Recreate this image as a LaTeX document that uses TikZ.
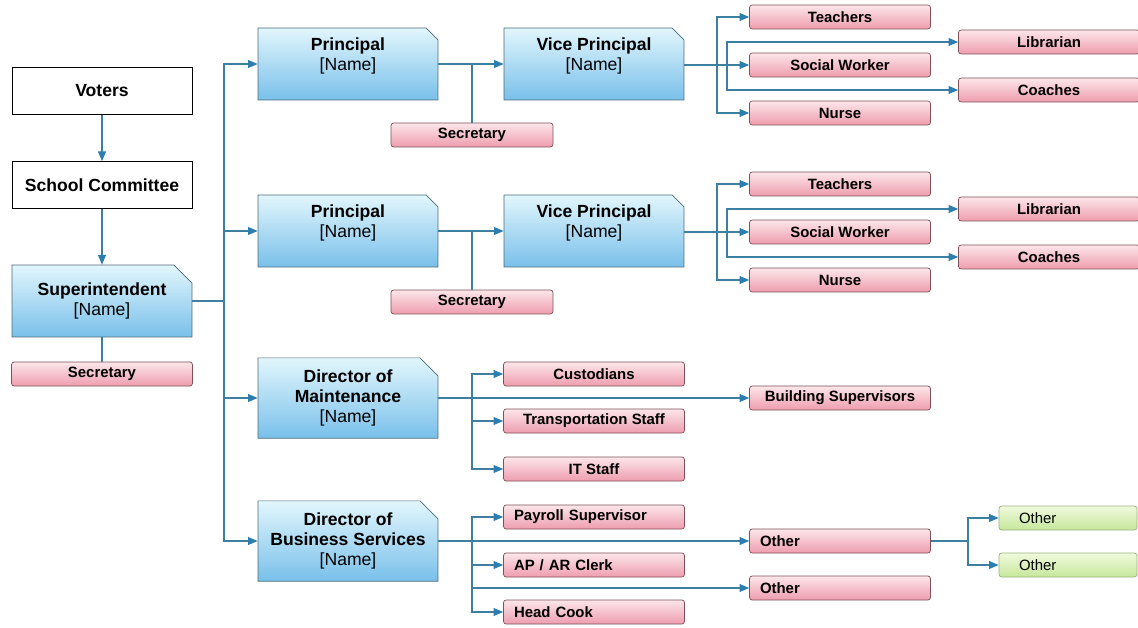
\documentclass[tikz,border=0pt]{standalone}
\usepackage{fontspec}
\setmainfont{Liberation Sans}
\usepackage{tikz}
\usetikzlibrary{shapes.misc, arrows.meta, positioning, calc}
\definecolor{orgline}{HTML}{3C7F9F}
\definecolor{orgtip}{HTML}{2C7DB0}
\definecolor{bluetop}{HTML}{E2F6FC}
\definecolor{bluebot}{HTML}{79C0EA}
\definecolor{blueedge}{HTML}{4B6B78}
\definecolor{pinktop}{HTML}{FCE6EA}
\definecolor{pinkbot}{HTML}{EE9DAE}
\definecolor{pinkedge}{HTML}{7E5058}
\definecolor{greentop}{HTML}{F0FADF}
\definecolor{greenbot}{HTML}{C6E79A}
\definecolor{greenedge}{HTML}{9AB47A}
\newcommand{\nm}{{[Name]}}
% two lines set a little above the middle of the box
\newcommand{\uptwo}[1]{\raisebox{1.6pt}[0pt][0pt]{\begin{tabular}{@{}c@{}}\textbf{#1}\\\nm\end{tabular}}}
\tikzset{
  plainbox/.style={
    draw=black, thin, fill=white, align=center,
    font=\fontsize{10}{12}\selectfont\bfseries,
    minimum width=3.6cm, minimum height=0.94cm
  },
  leadbox/.style={
    chamfered rectangle, chamfered rectangle corners=north east,
    chamfered rectangle xsep=0.16cm, chamfered rectangle ysep=0.2cm,
    draw=blueedge, thin, top color=bluetop, bottom color=bluebot,
    align=center, font=\fontsize{10}{11.5}\selectfont,
    minimum width=3.6cm, minimum height=1.44cm, inner sep=1pt
  },
  staffbox/.style={
    draw=pinkedge, thin, rounded corners=1.5pt,
    top color=pinktop, bottom color=pinkbot,
    align=center, font=\fontsize{8.5}{10}\selectfont\bfseries,
    minimum width=3.62cm, minimum height=0.48cm, inner sep=1pt
  },
  staffleft/.style={
    staffbox, text width=3.2cm, align=left
  },
  staffnarrow/.style={
    staffbox, minimum width=3.24cm
  },
  otherbox/.style={
    draw=greenedge, thin, rounded corners=1.5pt,
    top color=greentop, bottom color=greenbot,
    font=\fontsize{8.5}{10}\selectfont, text width=1.96cm, align=left,
    minimum width=2.76cm, minimum height=0.48cm, inner sep=1pt
  },
  orgarrow/.style={
    -{Triangle[length=5.5pt, width=4.5pt, color=orgtip]}, semithick, color=orgline
  },
  orgline/.style={semithick, color=orgline},
}

\begin{document}
\begin{tikzpicture}[x=0.02cm, y=-0.02cm]
  \useasboundingbox (0,0) rectangle (1138,628);

  % Left column
  \node[plainbox] (voters) at (102,91) {Voters};
  \node[plainbox] (comm) at (102,185) {School Committee};
  \node[leadbox] (sup) at (102,301) {\textbf{Superintendent}\\\nm};
  \node[staffbox] (supsec) at (102,374) {Secretary};
  \draw[orgarrow] (voters.south) -- (comm.north);
  \draw[orgarrow] (comm.south) -- (sup.north);
  \draw[orgline] (sup.south) -- (supsec.north);

  % Leaders
  \node[leadbox] (pa) at (348,64) {\uptwo{Principal}};
  \node[leadbox] (pb) at (348,231) {\uptwo{Principal}};
  \node[leadbox] (maint) at (348,398) {\textbf{Director of}\\\textbf{Maintenance}\\\nm};
  \node[leadbox] (bus) at (348,541) {\textbf{Director of}\\\textbf{Business Services}\\\nm};

  % Trunk from superintendent
  \coordinate (trunk) at (224,301);
  \draw[orgline] (sup.east) -- (trunk);
  \draw[orgarrow] (trunk) |- (pa.west);
  \draw[orgarrow] (trunk) |- (pb.west);
  \draw[orgarrow] (trunk) |- (maint.west);
  \draw[orgarrow] (trunk) |- (bus.west);

  % First school
  \node[leadbox] (vpa) at (594,64) {\uptwo{Vice Principal}};
  \node[staffnarrow] (seca) at (472,135) {Secretary};
  \draw[orgarrow] (pa.east) -- (vpa.west);
  \draw[orgline] (seca.north) -- (seca.north |- pa.east);
  \node[staffbox] (teacha) at (840,17) {Teachers};
  \node[staffbox] (socia) at (840,65) {Social Worker};
  \node[staffbox] (nursa) at (840,113) {Nurse};
  \node[staffbox] (libra) at (1049,42) {Librarian};
  \node[staffbox] (coaca) at (1049,90) {Coaches};
  \coordinate (vja) at (717,65);
  \coordinate (vka) at (727,65);
  \draw[orgarrow] (vpa.east |- socia.west) -- (socia.west);
  \draw[orgarrow] (vja) |- (teacha.west);
  \draw[orgarrow] (vja) |- (nursa.west);
  \draw[orgarrow] (vka) |- (libra.west);
  \draw[orgarrow] (vka) |- (coaca.west);

  % Second school
  \node[leadbox] (vpb) at (594,231) {\uptwo{Vice Principal}};
  \node[staffnarrow] (secb) at (472,302) {Secretary};
  \draw[orgarrow] (pb.east) -- (vpb.west);
  \draw[orgline] (secb.north) -- (secb.north |- pb.east);
  \node[staffbox] (teachb) at (840,184) {Teachers};
  \node[staffbox] (socib) at (840,232) {Social Worker};
  \node[staffbox] (nursb) at (840,280) {Nurse};
  \node[staffbox] (librb) at (1049,209) {Librarian};
  \node[staffbox] (coacb) at (1049,257) {Coaches};
  \coordinate (vjb) at (717,232);
  \coordinate (vkb) at (727,232);
  \draw[orgarrow] (vpb.east |- socib.west) -- (socib.west);
  \draw[orgarrow] (vjb) |- (teachb.west);
  \draw[orgarrow] (vjb) |- (nursb.west);
  \draw[orgarrow] (vkb) |- (librb.west);
  \draw[orgarrow] (vkb) |- (coacb.west);

  % Maintenance
  \node[staffbox] (cust) at (594,374) {Custodians};
  \node[staffbox] (trans) at (594,421) {Transportation Staff};
  \node[staffbox] (itst) at (594,469) {IT Staff};
  \node[staffbox] (build) at (840,398) {Building Supervisors};
  \coordinate (mj) at (472,398);
  \draw[orgarrow] (maint.east) -- (build.west);
  \draw[orgarrow] (mj) |- (cust.west);
  \draw[orgarrow] (mj) |- (trans.west);
  \draw[orgarrow] (mj) |- (itst.west);

  % Business services
  \node[staffleft] (pay) at (594,517) {Payroll Supervisor};
  \node[staffleft] (apar) at (594,565) {AP / AR Clerk};
  \node[staffleft] (cook) at (594,612) {Head Cook};
  \node[staffleft] (otha) at (840,541) {Other};
  \node[staffleft] (othb) at (840,588) {Other};
  \coordinate (bj) at (472,541);
  \draw[orgarrow] (bus.east) -- (otha.west);
  \draw[orgarrow] (bj) |- (pay.west);
  \draw[orgarrow] (bj) |- (apar.west);
  \draw[orgarrow] (bj) |- (cook.west);
  \draw[orgarrow] (bj) |- (othb.west);

  % Further others
  \node[otherbox] (grna) at (1068,518) {Other};
  \node[otherbox] (grnb) at (1068,565) {Other};
  \coordinate (gj) at (968,541);
  \draw[orgline] (otha.east) -- (gj);
  \draw[orgarrow] (gj) |- (grna.west);
  \draw[orgarrow] (gj) |- (grnb.west);
\end{tikzpicture}
\end{document}
